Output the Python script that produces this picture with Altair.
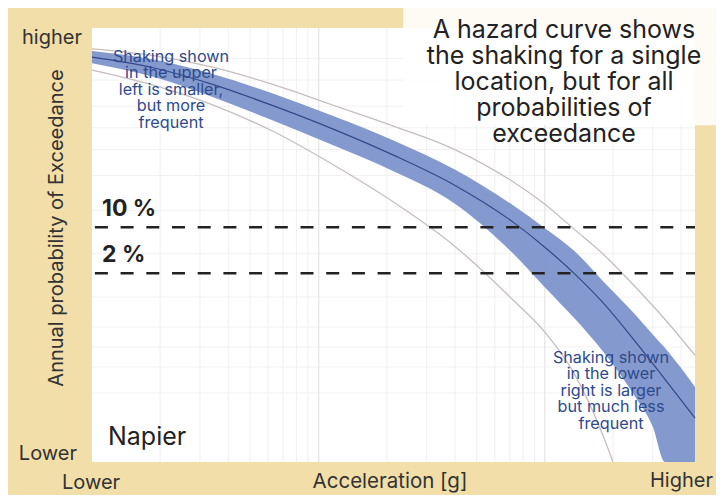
import altair as alt
import pandas as pd

# ---- data (arbitrary 0-100 units) ----
band_x = [0, 10, 20, 30, 40, 50, 60, 70, 75, 80, 85, 90, 93, 95, 100]
band_hi = [94.7, 92.8, 89.4, 84.9, 79.7, 74.1, 67.5, 59.0, 54.0, 48.6, 41.3, 34.1, 29.4, 26.3, 17.3]
band_lo = [91.9, 88.8, 84.1, 78.7, 73.0, 67.0, 59.7, 47.8, 40.4, 33.1, 25.0, 15.2, 8.1, 0.0, 0.0]

curve_x = [0, 10, 20, 30, 40, 50, 60, 70, 75, 80, 85, 90, 95, 100]
median_y = [93.3, 90.9, 87.0, 82.1, 76.7, 70.7, 63.9, 55.1, 49.6, 43.4, 36.3, 27.9, 19.1, 10.1]
upper_y = [95.2, 93.7, 91.0, 87.0, 82.2, 77.4, 72.1, 64.4, 59.5, 53.6, 47.6, 40.5, 32.9, 24.6]

lower_x = [0, 10, 20, 30, 40, 50, 60, 70, 75, 80, 85, 86.4]
lower_y = [90.3, 86.9, 82.3, 76.2, 68.5, 59.9, 49.9, 37.1, 30.1, 20.3, 5.2, 0.0]

level_values = [54.1, 43.5]
level_labels = ["10 %", "2 %"]

grid_major_x = [37.6, 75.1]
grid_minor_x = [11.3, 17.9, 22.6, 26.2, 29.2, 31.7, 33.9, 35.8,
                48.9, 55.5, 60.2, 63.8, 66.8, 69.3, 71.5, 73.4,
                86.4, 93.0, 97.7]
grid_y = [15.9, 21.9, 26.5, 31.1, 38.0, 48.0, 58.0, 66.0, 72.0, 77.0, 82.0, 88.0, 93.0]

title_lines = ["A hazard curve shows", "the shaking for a single",
               "location, but for all", "probabilities of", "exceedance"]
note_upper = ["Shaking shown", "in the upper", "left is smaller,", "but more", "frequent"]
note_lower = ["Shaking shown", "in the lower", "right is larger", "but much less", "frequent"]
place_label = "Napier"
y_title = "Annual probability of Exceedance"
x_title = "Acceleration [g]"
y_low, y_high = "Lower", "higher"
x_low, x_high = "Lower", "Higher"

# ---- styling ----
FONT = "Inter"
BG = "#F1DEA9"
BAND = "#7D95CB"
NAVY = "#2F4A8C"
GRAYLINE = "#C7BDBE"
INK = "#222222"

xs = alt.Scale(domain=[0, 100], nice=False, zero=False)
ys = alt.Scale(domain=[0, 100], nice=False, zero=False)

ax_x = alt.Axis(domain=True, domainColor="#1b1b1b", domainWidth=2.5, ticks=False,
                labels=False, title=None, grid=False, zindex=2)
ax_y = alt.Axis(domain=True, domainColor="#1b1b1b", domainWidth=2.5, ticks=False,
                labels=False, title=None, grid=False, zindex=2)

band_df = pd.DataFrame({"x": band_x, "hi": band_hi, "lo": band_lo})
curves_df = pd.DataFrame({"x": curve_x, "median": median_y, "upper": upper_y})
lower_df = pd.DataFrame({"x": lower_x, "lower": lower_y})
levels_df = pd.DataFrame({"level": level_values, "label": level_labels})
gmin_df = pd.DataFrame({"x": grid_minor_x})
gmaj_df = pd.DataFrame({"x": grid_major_x})
gy_df = pd.DataFrame({"y": grid_y})
one = pd.DataFrame({"a": [0]})

grid_minor = alt.Chart(gmin_df).mark_rule(color="#EFEFEF", strokeWidth=1).encode(
    x=alt.X("x:Q", scale=xs, axis=None))
grid_major = alt.Chart(gmaj_df).mark_rule(color="#E4E4E4", strokeWidth=1.2).encode(
    x=alt.X("x:Q", scale=xs, axis=None))
grid_h = alt.Chart(gy_df).mark_rule(color="#F1F1F1", strokeWidth=1).encode(
    y=alt.Y("y:Q", scale=ys, axis=None))

band = alt.Chart(band_df).mark_area(color=BAND, interpolate="monotone", opacity=0.95).encode(
    x=alt.X("x:Q", scale=xs, axis=ax_x),
    y=alt.Y("hi:Q", scale=ys, axis=ax_y),
    y2="lo:Q")

upper_line = alt.Chart(curves_df).mark_line(color=GRAYLINE, strokeWidth=1.3, interpolate="monotone").encode(
    x=alt.X("x:Q", scale=xs), y=alt.Y("upper:Q", scale=ys))
median_line = alt.Chart(curves_df).mark_line(color="#34478A", strokeWidth=1.2, interpolate="monotone").encode(
    x=alt.X("x:Q", scale=xs), y=alt.Y("median:Q", scale=ys))
lower_line = alt.Chart(lower_df).mark_line(color=GRAYLINE, strokeWidth=1.3, interpolate="monotone").encode(
    x=alt.X("x:Q", scale=xs), y=alt.Y("lower:Q", scale=ys))

dashes = alt.Chart(levels_df).mark_rule(color=INK, strokeWidth=2.6, strokeDash=[13, 12.7],
                                        strokeDashOffset=4).encode(
    y=alt.Y("level:Q", scale=ys))
dash_labels = alt.Chart(levels_df).mark_text(
    font=FONT, fontSize=23, fontWeight="bold", color=INK, align="left", baseline="bottom", dx=0, dy=-6
).encode(x=alt.value(10), y=alt.Y("level:Q", scale=ys), text="label:N")

# title box (decoration), placed through the chart's own scales
box = alt.Chart(one).mark_rect(color="#FFFFFF", opacity=0.88).encode(
    x=alt.datum(51.6, scale=xs),
    x2=alt.datum(106.0),
    y=alt.datum(106.0, scale=ys),
    y2=alt.datum(77.6))

title_txt = alt.Chart(one).mark_text(
    text=title_lines, font=FONT, fontSize=25, color=INK, align="center",
    baseline="middle", lineHeight=26
).encode(x=alt.value(472), y=alt.value(2))

note1 = alt.Chart(one).mark_text(
    text=note_upper, font=FONT, fontSize=16.2, color=NAVY, align="center",
    baseline="middle", lineHeight=16.4
).encode(x=alt.value(79), y=alt.value(29))
note2 = alt.Chart(one).mark_text(
    text=note_lower, font=FONT, fontSize=16.2, color=NAVY, align="center",
    baseline="middle", lineHeight=16.4
).encode(x=alt.value(519), y=alt.value(330))

napier = alt.Chart(one).mark_text(
    text=place_label, font=FONT, fontSize=25, color=INK, align="left", baseline="middle"
).encode(x=alt.value(16), y=alt.value(409))

ylab_hi = alt.Chart(one).mark_text(text=y_high, font=FONT, fontSize=20, color="#333333",
                                   align="right", baseline="middle").encode(x=alt.value(-10), y=alt.value(10))
ylab_lo = alt.Chart(one).mark_text(text=y_low, font=FONT, fontSize=20, color="#333333",
                                   align="right", baseline="middle").encode(x=alt.value(-15), y=alt.value(426))
xlab_lo = alt.Chart(one).mark_text(text=x_low, font=FONT, fontSize=20, color="#333333",
                                   align="center", baseline="middle").encode(x=alt.value(-1), y=alt.value(455))
xlab_hi = alt.Chart(one).mark_text(text=x_high, font=FONT, fontSize=20, color="#333333",
                                   align="right", baseline="middle").encode(x=alt.value(621), y=alt.value(453))
xtitle = alt.Chart(one).mark_text(text=x_title, font=FONT, fontSize=20.5, color="#333333",
                                  align="center", baseline="middle").encode(x=alt.value(298), y=alt.value(454))
ytitle = alt.Chart(one).mark_text(text=y_title, font=FONT, fontSize=20, color="#333333",
                                  align="center", baseline="middle", angle=270).encode(x=alt.value(-35), y=alt.value(200))

chart = alt.layer(
    grid_h, grid_minor, grid_major, band, upper_line, lower_line, median_line,
    dashes, dash_labels, box, title_txt, note1, note2, napier,
    ylab_hi, ylab_lo, xlab_lo, xlab_hi, xtitle, ytitle
).properties(
    width=603, height=434,
    padding={"left": 84, "top": 20, "right": 21, "bottom": 33},
    autosize=alt.AutoSizeParams(type="none"),
    background=BG,
).configure_view(fill="#FFFFFF", stroke=None)

chart.save("out.html", embed_options={"renderer": "svg", "actions": False})
